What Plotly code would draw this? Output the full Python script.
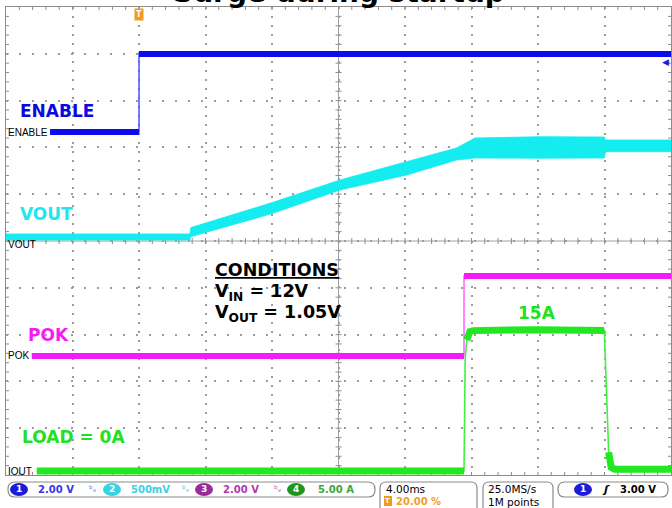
import plotly.graph_objects as go

# ---------------- data (time in ms, trigger at 0) ----------------
t_enable = [-5.35, 0.0, 0.0, 32.0]
v_enable = [0.0, 0.0, 3.33, 3.33]

t_vout = [-8.0, 3.05, 3.12, 8.06, 12.09, 16.1, 19.1, 20.2, 24.1, 27.99, 28.05, 32.0]
vout_lo = [0.043, 0.043, 0.078, 0.328, 0.577, 0.737, 0.897, 0.919, 0.916, 0.919, 0.986, 0.986]
vout_hi = [0.107, 0.107, 0.175, 0.445, 0.684, 0.879, 1.026, 1.132, 1.146, 1.143, 1.111, 1.111]

t_pok = [-6.45, 19.55, 19.55, 32.0]
v_pok = [0.0, 0.0, 3.42, 3.42]

t_iout = [-6.15, 19.55, 19.62, 19.72, 19.9, 20.1, 24.0, 27.99, 28.05, 28.25, 28.4, 28.6, 32.0]
i_iout = [0.0, 0.0, 12.0, 14.0, 14.9, 15.0, 15.1, 15.0, 12.0, 2.0, 0.4, 0.2, 0.2]

# channel settings: (units per division, ground position in divisions)
ch_enable = (2.0, 2.329)
ch_vout = (0.5, -0.064)
ch_pok = (2.0, -2.457)
ch_iout = (5.0, -4.915)

ch_scale_labels = ["2.00 V", "500mV", "2.00 V", "5.00 A"]
timebase_label = "4.00ms"
trig_pos_label = "20.00 %"
sample_labels = ["25.0MS/s", "1M points"]
trig_level = 3.0
trig_level_label = "3.00 V"

# ---------------- geometry helpers ----------------
PL, PR, PT, PB = 6, 671, 7, 475
FW, FH = 672, 508


def px(X):
    return (X - PL) / (PR - PL)


def py(Y):
    return (PB - Y) / (PB - PT)


def split_steep(t, v, scale, thr=3.0):
    xs, ys = [t[0]], [v[0]]
    for i in range(1, len(t)):
        dt = t[i] - t[i - 1]
        dv = abs(v[i] - v[i - 1]) / scale
        if dt == 0 or dv / dt > thr:
            xs.append(None)
            ys.append(None)
        xs.append(t[i])
        ys.append(v[i])
    return xs, ys


def ch_range(ch):
    s, g = ch
    return [(-5 - g) * s, (5 - g) * s]


BLUE = "#0c0cf0"
CYAN = "#14ecf0"
MAG = "#f41cf4"
GREEN = "#22e822"

fig = go.Figure()

# ENABLE (ch1)
fig.add_trace(go.Scatter(x=t_enable, y=v_enable, mode="lines", yaxis="y2",
                         line=dict(color="#5050ff", width=1.5)))
xs, ys = split_steep(t_enable, v_enable, ch_enable[0])
fig.add_trace(go.Scatter(x=xs, y=ys, mode="lines", yaxis="y2",
                         line=dict(color=BLUE, width=6)))

# VOUT (ch2) noisy band
fig.add_trace(go.Scatter(x=t_vout + t_vout[::-1], y=vout_hi + vout_lo[::-1],
                         mode="lines", yaxis="y3", fill="toself",
                         fillcolor=CYAN, line=dict(color=CYAN, width=0.8)))

# POK (ch3)
fig.add_trace(go.Scatter(x=t_pok, y=v_pok, mode="lines", yaxis="y4",
                         line=dict(color="#ff60ff", width=1.5)))
xs, ys = split_steep(t_pok, v_pok, ch_pok[0])
fig.add_trace(go.Scatter(x=xs, y=ys, mode="lines", yaxis="y4",
                         line=dict(color=MAG, width=6)))

# IOUT (ch4)
fig.add_trace(go.Scatter(x=t_iout, y=i_iout, mode="lines", yaxis="y5",
                         line=dict(color="#44f044", width=1.6)))
xs, ys = split_steep(t_iout, i_iout, ch_iout[0])
fig.add_trace(go.Scatter(x=xs, y=ys, mode="lines", yaxis="y5",
                         line=dict(color=GREEN, width=7)))

GRID = "#9c9c9c"
LINE = "#8c8c8c"

layout = dict(
    width=FW, height=FH,
    margin=dict(l=PL, r=FW - PR, t=PT, b=FH - PB, pad=0, autoexpand=False),
    paper_bgcolor="white", plot_bgcolor="white",
    showlegend=False, hovermode=False,
    xaxis=dict(range=[-8, 32], tick0=-8, dtick=4, showgrid=True, gridcolor=GRID,
               gridwidth=1.5, griddash="2px,7px", showline=True, linecolor=LINE,
               linewidth=1, mirror=True, ticks="", showticklabels=False,
               zeroline=False, fixedrange=True),
    yaxis=dict(range=[-5, 5], tick0=-5, dtick=1, showgrid=True, gridcolor=GRID,
               gridwidth=1.5, griddash="2px,11px", showline=True, linecolor=LINE,
               linewidth=1, mirror=True, ticks="", showticklabels=False,
               zeroline=False, fixedrange=True),
    yaxis2=dict(overlaying="y", range=ch_range(ch_enable), visible=False, fixedrange=True),
    yaxis3=dict(overlaying="y", range=ch_range(ch_vout), visible=False, fixedrange=True),
    yaxis4=dict(overlaying="y", range=ch_range(ch_pok), visible=False, fixedrange=True),
    yaxis5=dict(overlaying="y", range=ch_range(ch_iout), visible=False, fixedrange=True),
)
fig.update_layout(**layout)

ann = []
shapes = []

# cross-hair and border graticule ticks (decoration, in axis units)
shapes.append(dict(type="line", xref="x", yref="paper", x0=12, x1=12, y0=0, y1=1,
                   line=dict(color="#a0a0a0", width=1), layer="below"))
shapes.append(dict(type="line", xref="paper", yref="y", x0=0, x1=1, y0=0, y1=0,
                   line=dict(color="#a0a0a0", width=1), layer="below"))
for k in range(1, 50):
    t = -8 + 0.8 * k
    for yc, a, b in [(0, -0.065, 0.065), (-5, 0, 0.065), (5, -0.065, 0)]:
        shapes.append(dict(type="line", xref="x", yref="y", x0=t, x1=t, y0=yc + a,
                           y1=yc + b, line=dict(color=LINE, width=1), layer="below"))
for k in range(1, 50):
    d = -5 + 0.2 * k
    for xc, a, b in [(12, -0.18, 0.18), (-8, 0, 0.18), (32, -0.18, 0)]:
        shapes.append(dict(type="line", xref="x", yref="y", x0=xc + a, x1=xc + b, y0=d,
                           y1=d, line=dict(color=LINE, width=1), layer="below"))


def t_of(X):
    return (X - PL) / ((PR - PL) / 10) * 4 - 8


def d_of(Y):
    return ((PB + PT) / 2 - Y) / ((PB - PT) / 10)


BIG = "DejaVu Sans"

# title (mostly cut off at top)
ann.append(dict(text="<b>Surge during startup</b>", x=0.5, y=py(11), xref="paper", yref="paper",
                xanchor="center", yanchor="bottom", showarrow=False,
                font=dict(family=BIG, size=28, color="black")))

# big channel labels
for txt, X, Y, col in [("ENABLE", 18, 111, "#0a0ae0"), ("VOUT", 18, 214, "#22e6ee"),
                       ("POK", 26, 335, "#f41cf4"), ("LOAD = 0A", 20, 437, "#22e022")]:
    ann.append(dict(text="<b>%s</b>" % txt, x=t_of(X), y=d_of(Y), xref="x", yref="y",
                    xanchor="left", yanchor="middle", showarrow=False,
                    font=dict(family=BIG, size=17, color=col)))
ann.append(dict(text="<b>15A</b>", x=t_of(537), y=d_of(313), xref="x", yref="y",
                xanchor="center", yanchor="middle", showarrow=False,
                font=dict(family=BIG, size=17, color="#22e022")))

# conditions block
for txt, Y in [("<b><u>CONDITIONS</u></b>", 270), ("<b>V<sub>IN</sub> = 12V</b>", 292),
               ("<b>V<sub>OUT</sub> = 1.05V</b>", 313)]:
    ann.append(dict(text=txt, x=t_of(213), y=d_of(Y), xref="x", yref="y",
                    xanchor="left", yanchor="middle", showarrow=False,
                    font=dict(family=BIG, size=17.5, color="black")))

# ground reference labels
for txt, yr in [("ENABLE", "y2"), ("VOUT", "y3"), ("POK", "y4"), ("IOUT", "y5")]:
    ann.append(dict(text=txt, x=0, y=0, xref="paper", yref=yr, xanchor="left",
                    yanchor="middle", xshift=0, showarrow=False,
                    font=dict(family="Liberation Sans", size=10, color="black")))

# trigger position marker
ann.append(dict(text="<b>T</b>", x=0, y=1, xref="x", yref="paper", xanchor="center",
                yanchor="top", yshift=-1, showarrow=False, bgcolor="#f39a1c",
                borderpad=1, font=dict(family=BIG, size=8, color="white")))
# trigger level marker
ann.append(dict(text="◀", x=1, y=trig_level, xref="paper", yref="y2", xanchor="right",
                yanchor="middle", showarrow=False,
                font=dict(family=BIG, size=9, color="#1a1ae6")))


# ---------------- status bar ----------------
def rrect(X0, Y0, X1, Y1, r):
    path = "M %f,%f " % (px(X0 + r), py(Y0))
    path += "L %f,%f " % (px(X1 - r), py(Y0))
    path += "Q %f,%f %f,%f " % (px(X1), py(Y0), px(X1), py(Y0 + r))
    path += "L %f,%f " % (px(X1), py(Y1 - r))
    path += "Q %f,%f %f,%f " % (px(X1), py(Y1), px(X1 - r), py(Y1))
    path += "L %f,%f " % (px(X0 + r), py(Y1))
    path += "Q %f,%f %f,%f " % (px(X0), py(Y1), px(X0), py(Y1 - r))
    path += "L %f,%f " % (px(X0), py(Y0 + r))
    path += "Q %f,%f %f,%f Z" % (px(X0), py(Y0), px(X0 + r), py(Y0))
    return path


for (X0, Y0, X1, Y1, r) in [(8, 482, 375, 497, 7), (380, 482, 477, 514, 6),
                            (483, 482, 553, 514, 6), (558, 482, 668, 497, 7)]:
    shapes.append(dict(type="path", path=rrect(X0, Y0, X1, Y1, r), xref="paper",
                       yref="paper", line=dict(color="#8a8a8a", width=1.2),
                       fillcolor="white", layer="above"))

SB = "DejaVu Sans"
for Xc, col, lab in [(19, "#1c1cd8", "1"), (112, "#34d4e4", "2"), (204, "#9a2a9a", "3"),
                     (296, "#1e961e", "4"), (583, "#1c1cd8", "1")]:
    shapes.append(dict(type="circle", xref="paper", yref="paper", x0=px(Xc - 9),
                       x1=px(Xc + 9), y0=py(496), y1=py(483), fillcolor=col,
                       line=dict(width=0), layer="above"))
    ann.append(dict(text="<b>%s</b>" % lab, x=px(Xc), y=py(489.5), xref="paper",
                    yref="paper", xanchor="center", yanchor="middle", showarrow=False,
                    font=dict(family=SB, size=9, color="white")))

for txt, X, col in [(ch_scale_labels[0], 36, "#3535ee"), (ch_scale_labels[1], 129, "#3cd0e0"),
                    (ch_scale_labels[2], 221, "#b038b0"), (ch_scale_labels[3], 316, "#3aa83a")]:
    ann.append(dict(text="<b>%s</b>" % txt, x=px(X), y=py(489.5), xref="paper", yref="paper",
                    xanchor="left", yanchor="middle", showarrow=False,
                    font=dict(family=SB, size=10, color=col)))
for X, col in [(87, "#6a6ae6"), (180, "#50c8e0"), (272, "#b060b0")]:
    ann.append(dict(text="ᵇᵥ", x=px(X), y=py(489), xref="paper", yref="paper",
                    xanchor="left", yanchor="middle", showarrow=False,
                    font=dict(family=SB, size=9, color=col)))

ann.append(dict(text=timebase_label, x=px(384), y=py(489.5), xref="paper", yref="paper",
                xanchor="left", yanchor="middle", showarrow=False,
                font=dict(family=SB, size=10.5, color="black")))
shapes.append(dict(type="rect", xref="paper", yref="paper", x0=px(384), x1=px(392),
                   y0=py(506), y1=py(496), fillcolor="#f39a1c", line=dict(width=0),
                   layer="above"))
ann.append(dict(text="<b>T</b>", x=px(388), y=py(501), xref="paper", yref="paper",
                xanchor="center", yanchor="middle", showarrow=False,
                font=dict(family=SB, size=7, color="white")))
ann.append(dict(text="<b>%s</b>" % trig_pos_label, x=px(394), y=py(501.5), xref="paper",
                yref="paper", xanchor="left", yanchor="middle", showarrow=False,
                font=dict(family=SB, size=10, color="#f0a028")))
ann.append(dict(text=sample_labels[0], x=px(486), y=py(489.5), xref="paper", yref="paper",
                xanchor="left", yanchor="middle", showarrow=False,
                font=dict(family=SB, size=10.5, color="black")))
ann.append(dict(text=sample_labels[1], x=px(486), y=py(501.5), xref="paper", yref="paper",
                xanchor="left", yanchor="middle", showarrow=False,
                font=dict(family=SB, size=10.5, color="black")))
ann.append(dict(text="<b><i>ʃ</i></b>", x=px(606), y=py(489.5), xref="paper", yref="paper",
                xanchor="center", yanchor="middle", showarrow=False,
                font=dict(family=SB, size=11, color="black")))
ann.append(dict(text="<b>%s</b>" % trig_level_label, x=px(618), y=py(489.5), xref="paper",
                yref="paper", xanchor="left", yanchor="middle", showarrow=False,
                font=dict(family=SB, size=10, color="black")))

fig.update_layout(annotations=ann, shapes=shapes)
fig.write_html("out.html", config={"displayModeBar": False},
               post_script="document.body.style.margin='0';"
                           "document.body.style.overflow='hidden';")
